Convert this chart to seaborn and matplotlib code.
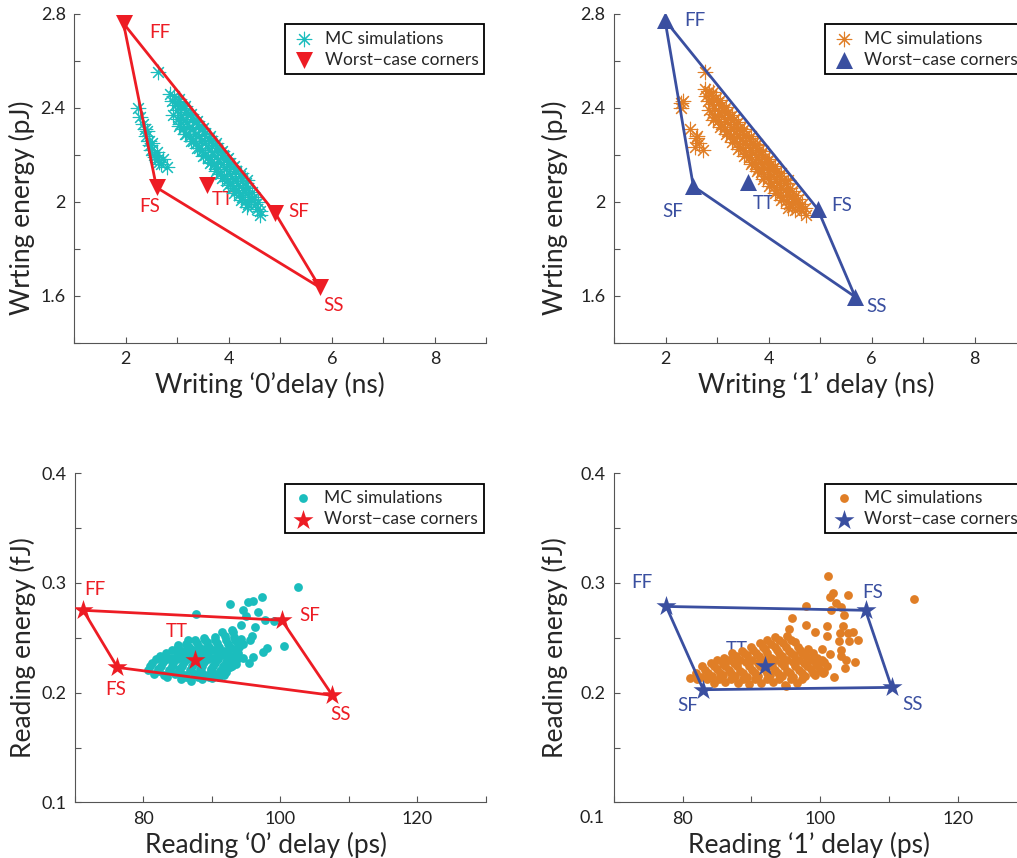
import matplotlib
matplotlib.use('Agg')
import matplotlib.pyplot as plt
import seaborn as sns
import pandas as pd

CYAN = '#1bbdbd'
ORANGE = '#e07e26'
RED = '#ed1c24'
BLUE = '#3a4fa0'

# ---- writing '0' (top left) ----
w0_mc = [
    (2.87, 2.46), (2.90, 2.43),
    (2.93, 2.45), (2.95, 2.41), (2.92, 2.37),
    (3.01, 2.43), (2.99, 2.39), (3.02, 2.35),
    (3.05, 2.41), (3.07, 2.37), (3.06, 2.33),
    (3.13, 2.40), (3.11, 2.35), (3.12, 2.31),
    (3.17, 2.38), (3.19, 2.34), (3.18, 2.29),
    (3.25, 2.37), (3.23, 2.32), (3.24, 2.28),
    (3.29, 2.35), (3.31, 2.31), (3.30, 2.26),
    (3.37, 2.34), (3.35, 2.29), (3.36, 2.25),
    (3.41, 2.32), (3.43, 2.28), (3.42, 2.23),
    (3.49, 2.31), (3.47, 2.26), (3.48, 2.22),
    (3.53, 2.29), (3.55, 2.25), (3.54, 2.20),
    (3.61, 2.27), (3.59, 2.23), (3.60, 2.19),
    (3.65, 2.26), (3.67, 2.21), (3.66, 2.17),
    (3.73, 2.24), (3.71, 2.20), (3.72, 2.16),
    (3.77, 2.23), (3.79, 2.18), (3.78, 2.14),
    (3.85, 2.21), (3.83, 2.17), (3.84, 2.12),
    (3.89, 2.20), (3.91, 2.15), (3.90, 2.11),
    (3.97, 2.18), (3.95, 2.14), (3.96, 2.09),
    (4.01, 2.16), (4.03, 2.12), (4.02, 2.08),
    (4.09, 2.15), (4.07, 2.10), (4.08, 2.06),
    (4.13, 2.13), (4.15, 2.09), (4.14, 2.05),
    (4.21, 2.11), (4.19, 2.07), (4.20, 2.03),
    (4.25, 2.10), (4.27, 2.06), (4.26, 2.02),
    (4.33, 2.08), (4.31, 2.04), (4.32, 2.00),
    (4.37, 2.06), (4.39, 2.02), (4.38, 1.99),
    (4.45, 2.04), (4.43, 2.01),
    (4.49, 2.02), (4.51, 1.99),
    (4.57, 2.00), (4.55, 1.97),
    (4.61, 1.96), (4.60, 1.945),
    (3.03, 2.437), (3.15, 2.406), (3.27, 2.374), (3.39, 2.343), (3.51, 2.312),
    (3.63, 2.280), (3.75, 2.249), (3.87, 2.217), (3.99, 2.186), (4.11, 2.154),
    (4.23, 2.123), (4.35, 2.092),
    (3.03, 2.321), (3.15, 2.290), (3.27, 2.258), (3.39, 2.227), (3.51, 2.196),
    (3.63, 2.164), (3.75, 2.133), (3.87, 2.101), (3.99, 2.070), (4.11, 2.038),
    (4.23, 2.007), (4.35, 1.976),
    (2.25, 2.40), (2.28, 2.36), (2.33, 2.33), (2.38, 2.31), (2.40, 2.28),
    (2.42, 2.30), (2.45, 2.26), (2.47, 2.24), (2.50, 2.22), (2.52, 2.25),
    (2.55, 2.20), (2.58, 2.19), (2.60, 2.21), (2.62, 2.18), (2.65, 2.17),
    (2.68, 2.16), (2.72, 2.18), (2.80, 2.15),
    (2.63, 2.55),
]
w0_names = ['FF', 'FS', 'SF', 'SS', 'TT']
w0_cx = [1.96, 2.60, 4.90, 5.77, 3.57]
w0_cy = [2.758, 2.061, 1.953, 1.636, 2.073]
w0_ring = ['FF', 'FS', 'SS', 'SF']

# ---- writing '1' (top right) ----
w1_mc = [
    (2.76, 2.48), (2.79, 2.45),
    (2.85, 2.47), (2.83, 2.43), (2.84, 2.39),
    (2.89, 2.455), (2.91, 2.415), (2.90, 2.375),
    (2.97, 2.44), (2.95, 2.40), (2.96, 2.36),
    (3.01, 2.425), (3.03, 2.385), (3.02, 2.345),
    (3.09, 2.41), (3.07, 2.37), (3.08, 2.33),
    (3.13, 2.39), (3.15, 2.35), (3.14, 2.31),
    (3.21, 2.38), (3.19, 2.34), (3.20, 2.30),
    (3.25, 2.36), (3.27, 2.32), (3.26, 2.28),
    (3.33, 2.35), (3.31, 2.31), (3.32, 2.27),
    (3.37, 2.33), (3.39, 2.29), (3.38, 2.25),
    (3.45, 2.315), (3.43, 2.275), (3.44, 2.235),
    (3.49, 2.30), (3.51, 2.26), (3.50, 2.22),
    (3.57, 2.285), (3.55, 2.245), (3.56, 2.205),
    (3.61, 2.27), (3.63, 2.23), (3.62, 2.19),
    (3.69, 2.25), (3.67, 2.21), (3.68, 2.17),
    (3.73, 2.24), (3.75, 2.20), (3.74, 2.16),
    (3.81, 2.22), (3.79, 2.18), (3.80, 2.14),
    (3.85, 2.205), (3.87, 2.165), (3.86, 2.125),
    (3.93, 2.19), (3.91, 2.15), (3.92, 2.11),
    (3.97, 2.175), (3.99, 2.135), (3.98, 2.095),
    (4.05, 2.16), (4.03, 2.12), (4.04, 2.08),
    (4.09, 2.145), (4.11, 2.105), (4.10, 2.065),
    (4.17, 2.13), (4.15, 2.09), (4.16, 2.05),
    (4.21, 2.11), (4.23, 2.07), (4.22, 2.03),
    (4.29, 2.095), (4.27, 2.055), (4.28, 2.02),
    (4.33, 2.08), (4.35, 2.04), (4.34, 2.005),
    (4.41, 2.06), (4.39, 2.025), (4.40, 1.99),
    (4.45, 2.045), (4.47, 2.01), (4.46, 1.98),
    (4.53, 2.03), (4.51, 1.995), (4.52, 1.965),
    (4.57, 2.01), (4.59, 1.98),
    (4.65, 1.99), (4.63, 1.96),
    (4.71, 1.975), (4.72, 1.945),
    (2.93, 2.465), (3.05, 2.434), (3.17, 2.403), (3.29, 2.371), (3.41, 2.340),
    (3.53, 2.309), (3.65, 2.278), (3.77, 2.247), (3.89, 2.215), (4.01, 2.184),
    (4.13, 2.153), (4.25, 2.122), (4.37, 2.091),
    (2.93, 2.349), (3.05, 2.318), (3.17, 2.287), (3.29, 2.255), (3.41, 2.224),
    (3.53, 2.193), (3.65, 2.162), (3.77, 2.131), (3.89, 2.099), (4.01, 2.068),
    (4.13, 2.037), (4.25, 2.006), (4.37, 1.975),
    (2.31, 2.42), (2.30, 2.40), (2.33, 2.43), (2.48, 2.31), (2.61, 2.28),
    (2.57, 2.235), (2.73, 2.22), (2.65, 2.25), (2.60, 2.27),
    (2.77, 2.55),
]
w1_names = ['FF', 'SF', 'FS', 'SS', 'TT']
w1_cx = [1.99, 2.54, 4.95, 5.68, 3.60]
w1_cy = [2.772, 2.066, 1.970, 1.596, 2.083]
w1_ring = ['FF', 'SF', 'SS', 'FS']

# ---- reading '0' (bottom left) ----
r0_mc = [
    (85.5, 0.212), (87.0, 0.211), (88.5, 0.212), (90.0, 0.213),
    (83.5, 0.2145), (86.2, 0.2145), (88.0, 0.2145), (89.6, 0.2145), (91.0, 0.2145),
    (81.5, 0.217), (83.0, 0.216), (84.6, 0.217), (86.1, 0.216), (87.5, 0.217),
    (89.0, 0.216), (90.4, 0.217), (91.8, 0.218),
    (82.3, 0.2195), (83.9, 0.2195), (85.4, 0.2195), (86.9, 0.2195), (88.4, 0.2195),
    (89.9, 0.2195), (91.2, 0.2195),
    (80.6, 0.221), (82.2, 0.222), (83.7, 0.221), (85.2, 0.222), (86.8, 0.221),
    (88.3, 0.222), (89.8, 0.222), (91.3, 0.221), (92.6, 0.223),
    (81.0, 0.2245), (82.6, 0.2245), (84.1, 0.2245), (85.6, 0.2245), (87.1, 0.2245),
    (88.6, 0.2245), (90.1, 0.2245), (91.6, 0.2245), (92.9, 0.2245),
    (81.2, 0.227), (82.8, 0.228), (84.3, 0.227), (85.9, 0.228), (87.4, 0.227),
    (88.9, 0.228), (90.5, 0.227), (92.0, 0.228), (93.2, 0.227),
    (81.8, 0.2305), (83.4, 0.2305), (84.9, 0.2305), (86.4, 0.2305), (87.9, 0.2305),
    (89.4, 0.2305), (90.9, 0.2305), (92.4, 0.2305), (93.6, 0.2305),
    (82.4, 0.233), (84.0, 0.232), (85.6, 0.233), (87.1, 0.234), (88.6, 0.233),
    (90.1, 0.232), (91.6, 0.234), (93.0, 0.233),
    (83.3, 0.236), (84.9, 0.236), (86.4, 0.236), (87.9, 0.236), (89.4, 0.236),
    (90.9, 0.236), (92.4, 0.236), (93.8, 0.236),
    (84.2, 0.239), (85.8, 0.238), (87.3, 0.239), (88.8, 0.240), (90.3, 0.239),
    (91.8, 0.238), (93.3, 0.240),
    (85.1, 0.242), (86.6, 0.242), (88.1, 0.242), (89.6, 0.242), (91.1, 0.242),
    (92.6, 0.242), (94.0, 0.242),
    (86.2, 0.244), (87.8, 0.245), (89.3, 0.246), (90.8, 0.245), (92.3, 0.244),
    (93.6, 0.246),
    (87.5, 0.248), (89.0, 0.248), (90.5, 0.248), (92.0, 0.248), (93.4, 0.248),
    (88.8, 0.250), (90.4, 0.251), (91.9, 0.252), (93.2, 0.251),
    (91.5, 0.255), (93.0, 0.257),
    (102.5, 0.296), (97.3, 0.287), (96.0, 0.2835), (95.3, 0.2826), (92.7, 0.281),
    (87.7, 0.272), (94.5, 0.2757), (96.8, 0.2735), (97.7, 0.266), (99.1, 0.265),
    (96.3, 0.260), (93.1, 0.255), (95.5, 0.2477), (100.5, 0.2425), (98.0, 0.2407),
    (97.5, 0.237), (96.0, 0.2325), (94.6, 0.244), (95.4, 0.2273), (94.6, 0.232),
    (93.5, 0.2258), (91.7, 0.2158), (85.1, 0.243), (86.5, 0.2477), (94.2, 0.262),
    (95.0, 0.270), (95.8, 0.252), (94.2, 0.249), (92.5, 0.223), (92.0, 0.219),
]
r0_names = ['FF', 'FS', 'SF', 'SS', 'TT']
r0_cx = [71.2, 76.2, 100.2, 107.6, 87.5]
r0_cy = [0.275, 0.223, 0.266, 0.1975, 0.230]
r0_ring = ['FF', 'FS', 'SS', 'SF']

# ---- reading '1' (bottom right) ----
r1_mc = [
    (84.5, 0.209), (86.2, 0.210), (88.0, 0.209), (89.7, 0.208), (91.4, 0.209),
    (93.1, 0.210), (94.9, 0.207), (96.6, 0.209),
    (83.5, 0.212), (85.3, 0.212), (87.0, 0.212), (88.8, 0.212), (90.5, 0.212),
    (92.2, 0.212), (94.0, 0.212), (95.7, 0.212), (97.4, 0.212),
    (82.6, 0.214), (84.2, 0.215), (85.9, 0.216), (87.6, 0.215), (89.3, 0.214),
    (91.0, 0.215), (92.7, 0.216), (94.4, 0.215), (96.1, 0.214), (97.8, 0.215),
    (99.2, 0.216),
    (82.0, 0.218), (83.7, 0.218), (85.4, 0.218), (87.1, 0.218), (88.8, 0.218),
    (90.5, 0.218), (92.2, 0.218), (93.9, 0.218), (95.6, 0.218), (97.3, 0.218),
    (99.0, 0.218), (100.4, 0.218),
    (83.3, 0.221), (85.0, 0.222), (86.7, 0.221), (88.4, 0.220), (90.1, 0.221),
    (91.8, 0.222), (93.5, 0.221), (95.2, 0.220), (96.9, 0.221), (98.6, 0.222),
    (100.0, 0.221),
    (82.8, 0.224), (84.5, 0.224), (86.2, 0.224), (87.9, 0.224), (89.6, 0.224),
    (91.3, 0.224), (93.0, 0.224), (94.7, 0.224), (96.4, 0.224), (98.1, 0.224),
    (99.7, 0.224), (101.0, 0.224),
    (84.1, 0.227), (85.8, 0.226), (87.5, 0.227), (89.2, 0.228), (90.9, 0.227),
    (92.6, 0.226), (94.3, 0.227), (96.0, 0.228), (97.7, 0.227), (99.4, 0.226),
    (100.6, 0.228),
    (85.0, 0.230), (86.7, 0.230), (88.4, 0.230), (90.1, 0.230), (91.8, 0.230),
    (93.5, 0.230), (95.2, 0.230), (96.9, 0.230), (98.6, 0.230), (100.2, 0.230),
    (86.0, 0.232), (87.7, 0.233), (89.4, 0.234), (91.1, 0.233), (92.8, 0.232),
    (94.5, 0.233), (96.2, 0.234), (97.9, 0.233), (99.5, 0.232),
    (87.2, 0.236), (88.9, 0.236), (90.6, 0.236), (92.3, 0.236), (94.0, 0.236),
    (95.7, 0.236), (97.4, 0.236), (99.0, 0.236),
    (88.6, 0.238), (90.3, 0.239), (92.0, 0.240), (93.7, 0.239), (95.4, 0.238),
    (97.1, 0.239), (98.3, 0.240),
    (90.0, 0.242), (91.7, 0.242), (93.4, 0.242), (95.1, 0.242), (96.8, 0.242),
    (91.2, 0.245), (92.9, 0.244), (94.6, 0.245), (96.3, 0.246),
    (92.3, 0.248), (94.0, 0.248), (95.7, 0.248),
    (93.5, 0.251), (95.2, 0.252),
    (101.1, 0.306), (101.8, 0.291), (101.5, 0.2875), (104.0, 0.289), (113.6, 0.285),
    (98.0, 0.279), (102.3, 0.2815), (103.1, 0.278), (101.6, 0.275), (103.5, 0.271),
    (95.9, 0.268), (101.05, 0.261), (103.3, 0.261), (97.9, 0.262), (95.4, 0.258),
    (102.9, 0.254), (104.0, 0.254), (104.8, 0.255), (101.05, 0.252), (99.3, 0.255),
    (102.7, 0.2467), (104.2, 0.247), (105.5, 0.248), (103.0, 0.239), (103.0, 0.233),
    (103.8, 0.230), (105.0, 0.228), (103.6, 0.2225), (102.0, 0.214), (95.0, 0.2064),
    (82.1, 0.2125), (81.0, 0.213), (100.5, 0.2185), (101.5, 0.235), (100.2, 0.240),
]
r1_names = ['FF', 'SF', 'FS', 'SS', 'TT']
r1_cx = [77.6, 83.0, 106.6, 110.4, 91.95]
r1_cy = [0.2785, 0.2027, 0.275, 0.2048, 0.2245]
r1_ring = ['FF', 'SF', 'SS', 'FS']

# label offsets (points) for the corner names
w0_off = {'FF': (26, -6.5), 'FS': (-5, -14), 'TT': (12, -11), 'SF': (17, 1), 'SS': (9.5, -13)}
w1_off = {'FF': (21.5, 0), 'SF': (-14.5, -18), 'TT': (11, -15), 'FS': (17.5, 2.5), 'SS': (15.5, -7)}
r0_off = {'FF': (8.5, 15), 'FS': (-1, -16), 'TT': (-13, 20), 'SF': (20, 3.5), 'SS': (6, -13.5)}
r1_off = {'FF': (-17.5, 17), 'SF': (-11.5, -11.5), 'TT': (-20, 12), 'FS': (5.5, 13), 'SS': (15, -12.5)}

sns.set_style('ticks')
plt.rcParams['font.family'] = ['Lato', 'DejaVu Sans']
plt.rcParams['axes.linewidth'] = 0.8

fig = plt.figure(figsize=(10.17, 8.58), dpi=100)
ax_w0 = fig.add_axes([0.0728, 0.6002, 0.4055, 0.3840])
ax_w1 = fig.add_axes([0.6037, 0.6002, 0.4055, 0.3840])
ax_r0 = fig.add_axes([0.0737, 0.0647, 0.4040, 0.3840])
ax_r1 = fig.add_axes([0.6037, 0.0647, 0.4055, 0.3840])


def draw_panel(ax, mc, names, cx, cy, ring, mc_color, c_color, mc_marker, mc_size,
               c_marker, c_size, offsets, mc_lw):
    cloud = pd.DataFrame(mc, columns=['x', 'y'])
    corners = pd.DataFrame({'name': names, 'x': cx, 'y': cy})
    sns.scatterplot(data=cloud, x='x', y='y', ax=ax, marker=mc_marker, s=mc_size,
                    color=mc_color, edgecolor=mc_color, linewidth=mc_lw,
                    label='MC simulations', zorder=2)
    loop = corners.set_index('name').loc[ring + ring[:1]]
    ax.plot(loop['x'], loop['y'], color=c_color, lw=2.0, zorder=3)
    sns.scatterplot(data=corners, x='x', y='y', ax=ax, marker=c_marker, s=c_size,
                    color=c_color, edgecolor=c_color, linewidth=0,
                    label='Worst\u2212case corners', zorder=4)
    for _, row in corners.iterrows():
        dx, dy = offsets[row['name']]
        ax.annotate(row['name'], (row['x'], row['y']), xytext=(dx, dy),
                    textcoords='offset points', ha='center', va='center',
                    color=c_color, fontsize=13.5, zorder=1.5 if row['name'] == 'TT' else 5)
    leg = ax.legend(loc='upper right', bbox_to_anchor=(0.995, 0.967), borderaxespad=0,
                    frameon=True, fancybox=False, framealpha=1, edgecolor='black',
                    fontsize=12.5, handletextpad=0.5, borderpad=0.35,
                    labelspacing=0.3, handlelength=1.4)
    leg.get_frame().set_linewidth(1.3)


asterisk = (8, 2, 0)
draw_panel(ax_w0, w0_mc, w0_names, w0_cx, w0_cy, w0_ring, CYAN, RED, asterisk, 110,
           'v', 150, w0_off, 0.8)
draw_panel(ax_w1, w1_mc, w1_names, w1_cx, w1_cy, w1_ring, ORANGE, BLUE, asterisk, 110,
           '^', 150, w1_off, 0.8)
draw_panel(ax_r0, r0_mc, r0_names, r0_cx, r0_cy, r0_ring, CYAN, RED, 'o', 40,
           '*', 230, r0_off, 0)
draw_panel(ax_r1, r1_mc, r1_names, r1_cx, r1_cy, r1_ring, ORANGE, BLUE, 'o', 40,
           '*', 230, r1_off, 0)

for ax in (ax_w0, ax_w1):
    ax.set_xlim(1, 9)
    ax.set_xticks(range(1, 10))
    ax.set_xticklabels(['', '2', '', '4', '', '6', '', '8', ''])
    ax.set_ylim(1.4, 2.8)
    ax.set_yticks([1.4, 1.6, 1.8, 2.0, 2.2, 2.4, 2.6, 2.8])
    ax.set_yticklabels(['', '1.6', '', '2', '', '2.4', '', '2.8'])
    ax.set_ylabel('Wrting energy (pJ)', fontsize=19)

for ax in (ax_r0, ax_r1):
    ax.set_xlim(70, 130)
    ax.set_xticks(range(70, 131, 10))
    ax.set_xticklabels(['', '80', '', '100', '', '120', ''])
    ax.set_ylim(0.1, 0.4)
    ax.set_yticks([0.1, 0.15, 0.2, 0.25, 0.3, 0.35, 0.4])
    ax.set_ylabel('Reading energy (fJ)', fontsize=19)
ax_r0.set_yticklabels(['0.1', '', '0.2', '', '0.3', '', '0.4'])
ax_r1.set_yticklabels(['', '', '0.2', '', '0.3', '', '0.4'])
ax_r1.text(-0.053, -0.046, '0.1', transform=ax_r1.transAxes, ha='center', va='center',
           fontsize=13, color='#222222')

ax_w0.set_xlabel('Writing \u20180\u2019delay (ns)', fontsize=19)
ax_w1.set_xlabel('Writing \u20181\u2019 delay (ns)', fontsize=19)
ax_r0.set_xlabel('Reading \u20180\u2019 delay (ps)', fontsize=19)
ax_r1.set_xlabel('Reading \u20181\u2019 delay (ps)', fontsize=19)

ax_w0.xaxis.set_label_coords(0.476, -0.088)
ax_w1.xaxis.set_label_coords(0.49, -0.088)
ax_r0.xaxis.set_label_coords(0.465, -0.088)
ax_r1.xaxis.set_label_coords(0.473, -0.088)
ax_w0.yaxis.set_label_coords(-0.095, 0.41)
ax_r0.yaxis.set_label_coords(-0.095, 0.47)
ax_w1.yaxis.set_label_coords(-0.112, 0.41)
ax_r1.yaxis.set_label_coords(-0.112, 0.47)

for ax in (ax_w0, ax_w1, ax_r0, ax_r1):
    sns.despine(ax=ax)
    for side in ('left', 'bottom'):
        ax.spines[side].set_color('#555555')
    ax.tick_params(direction='in', length=4, width=0.8, color='#555555',
                   labelsize=13, labelcolor='#222222', pad=6)

fig.savefig('out.png', dpi=100)
